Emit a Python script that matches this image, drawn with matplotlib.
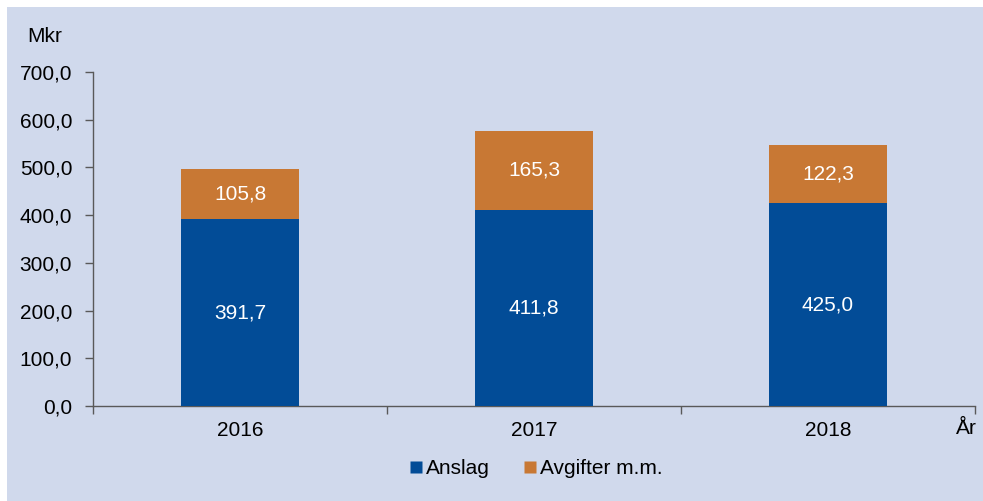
import matplotlib
matplotlib.use("Agg")
import matplotlib.pyplot as plt
from matplotlib.lines import Line2D
from matplotlib.patches import Rectangle
import numpy as np

years = ["2016", "2017", "2018"]
anslag = [391.7, 411.8, 425.0]
avgifter = [105.8, 165.3, 122.3]
yticks = [0, 100, 200, 300, 400, 500, 600, 700]

BG = "#D0D9EC"
BLUE = "#024C97"
ORANGE = "#C87834"
AXIS = "#595959"

plt.rcParams["font.family"] = ["Liberation Sans", "DejaVu Sans"]
plt.rcParams["font.size"] = 15

fig = plt.figure(figsize=(9.83, 5.01), dpi=100)
fig.patch.set_facecolor("white")
fig.add_artist(Rectangle((7 / 983, 0), 1 - 7 / 983, 1 - 7 / 501,
                         transform=fig.transFigure, facecolor=BG,
                         edgecolor="none", zorder=0))

ax = fig.add_axes([93 / 983, 1 - 406 / 501, (975 - 93) / 983, (406 - 72) / 501])
ax.set_facecolor("none")

x = np.arange(len(years))
w = 0.4
ax.bar(x, anslag, w, color=BLUE, zorder=3)
ax.bar(x, avgifter, w, bottom=anslag, color=ORANGE, zorder=3)

for xi, a, b in zip(x, anslag, avgifter):
    ax.text(xi, a / 2, f"{a:.1f}".replace(".", ","), ha="center", va="center",
            color="white", fontsize=15, zorder=4)
    ax.text(xi, a + b / 2, f"{b:.1f}".replace(".", ","), ha="center",
            va="center", color="white", fontsize=15, zorder=4)

ax.set_xlim(-0.5, len(years) - 0.5)
ax.set_ylim(0, 700)
ax.set_yticks(yticks)
ax.set_yticklabels([f"{t:.1f}".replace(".", ",") for t in yticks])

# category boundary ticks on x, labels at centers
ax.set_xticks(np.arange(len(years) + 1) - 0.5)
ax.set_xticklabels([])
ax.set_xticks(x, minor=True)
ax.set_xticklabels(years, minor=True)
ax.tick_params(axis="x", which="major", direction="out", length=6,
               width=1, color=AXIS)
ax.tick_params(axis="x", which="minor", length=0, pad=11)
ax.tick_params(axis="y", direction="out", length=6, width=1, color=AXIS, pad=9)

for s in ("top", "right"):
    ax.spines[s].set_visible(False)
for s in ("left", "bottom"):
    ax.spines[s].set_color(AXIS)
    ax.spines[s].set_linewidth(1)

fig.text(45 / 983, 1 - 36 / 501, "Mkr", ha="center", va="center", fontsize=15)
fig.text(966 / 983, 1 - 429 / 501, "År", ha="center", va="center", fontsize=15)

handles = [
    Line2D([0], [0], marker="s", color="none", markerfacecolor=BLUE,
           markeredgecolor="none", markersize=8.5, label="Anslag"),
    Line2D([0], [0], marker="s", color="none", markerfacecolor=ORANGE,
           markeredgecolor="none", markersize=8.5, label="Avgifter m.m."),
]
fig.legend(handles=handles, loc="center", ncol=2, frameon=False,
           bbox_to_anchor=(536 / 983, 1 - 469 / 501), fontsize=15,
           handlelength=0.6, handletextpad=0.2, columnspacing=1.6)

fig.savefig("out.png", dpi=100)
